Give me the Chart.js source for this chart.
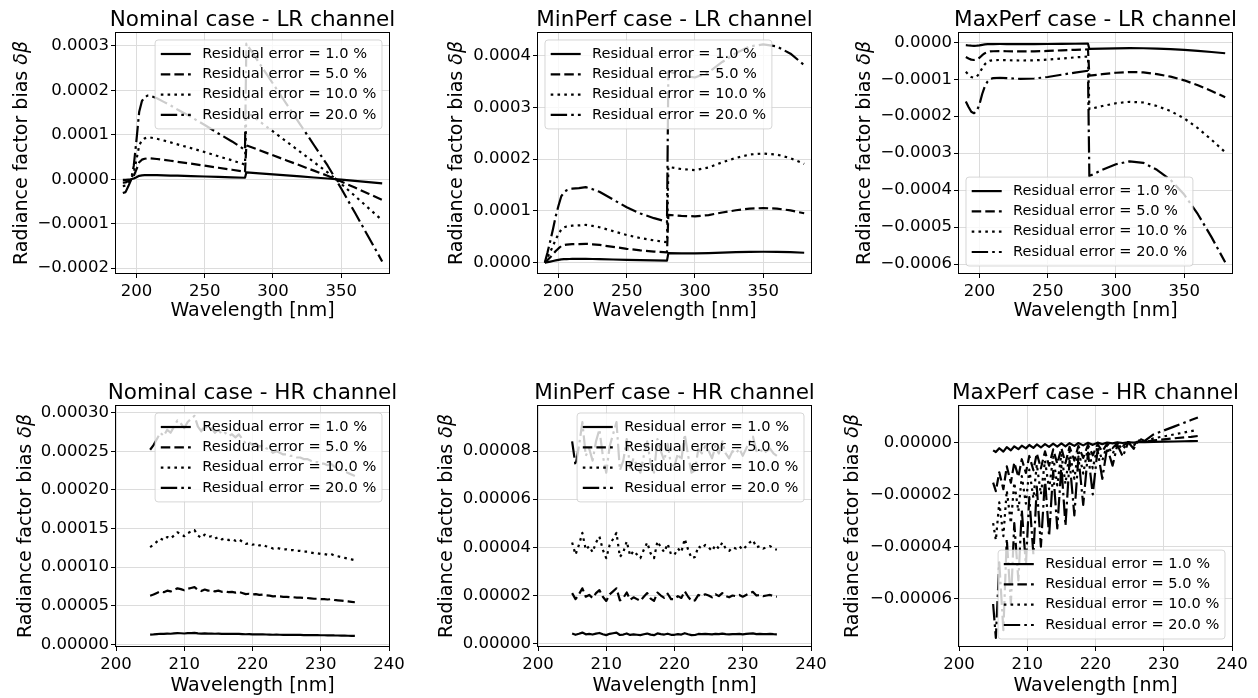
<!DOCTYPE html>
<html>
<head>
<meta charset="utf-8">
<script src="https://cdn.jsdelivr.net/npm/chart.js@4.4.1/dist/chart.umd.min.js"></script>
<style>
  body { margin: 0; background: #fff; width: 1258px; height: 698px; position: relative; overflow: hidden; }
  canvas { position: absolute; }
</style>
</head>
<body>
<canvas id="nomLR" width="418" height="333" style="left:-4px;top:0px"></canvas>
<canvas id="minLR" width="418" height="333" style="left:418px;top:0px"></canvas>
<canvas id="maxLR" width="418" height="333" style="left:839px;top:0px"></canvas>
<canvas id="nomHR" width="418" height="333" style="left:-4px;top:373px"></canvas>
<canvas id="minHR" width="418" height="333" style="left:418px;top:373px"></canvas>
<canvas id="maxHR" width="418" height="333" style="left:839px;top:373px"></canvas>
<script>
// all bias values below are in units of 1e-6
const SCALE = 1e-6;

const seriesLabels = ['Residual error = 1.0 %', 'Residual error = 5.0 %', 'Residual error = 10.0 %', 'Residual error = 20.0 %'];

// LR channel wavelength grid (nm), step at the 280 nm band edge
const lrWavelength = [190, 192, 194, 196, 198, 200, 202, 204, 206, 208, 210, 215, 220, 225, 230, 240, 250, 260, 270, 279.5, 280.5, 290, 300, 310, 320, 330, 340, 350, 360, 370, 380];

const nomLR_1 = [-1.6, -1.5, -0.8, -0.1, 1.5, 4.4, 7.6, 8.8, 9.2, 9.4, 9.4, 9.1, 8.7, 8.3, 7.9, 7.0, 6.1, 5.2, 4.3, 3.3, 15.3, 13.1, 10.8, 8.5, 6.2, 3.9, 1.6, -1.1, -3.8, -6.5, -9.3];
const nomLR_5 = [-7.8, -7.3, -4, -0.5, 7.5, 22, 38, 44, 46, 47, 47, 45.5, 43.5, 41.5, 39.3, 35, 30.5, 25.8, 21.3, 16.5, 76.3, 65.3, 53.8, 42.3, 30.8, 19.3, 7.8, -5.3, -18.8, -32.5, -46.3];
const nomLR_10 = [-15.5, -14.5, -8, -1, 15, 44, 76, 88, 92, 94, 94, 91, 87, 83, 78.5, 70, 61, 51.5, 42.5, 33, 152.5, 130.5, 107.5, 84.5, 61.5, 38.5, 15.5, -10.5, -37.5, -65, -92.5];
const nomLR_20 = [-31, -29, -16, -2, 30, 88, 152, 176, 184, 188, 188, 182, 174, 166, 157, 140, 122, 103, 85, 66, 305, 261, 215, 169, 123, 77, 31, -21, -75, -130, -185];

const minLR_1 = [0, 1, 2.1, 3.3, 4.5, 5.5, 6.4, 6.8, 7, 7.1, 7.2, 7.2, 7.3, 7.1, 6.9, 6.1, 5.4, 4.8, 4.3, 4, 18.5, 18.1, 17.9, 18.4, 19.4, 20.3, 20.9, 21.1, 20.9, 20.2, 19.1];
const minLR_5 = [0, 5, 10.5, 16.3, 22.5, 27.5, 32, 34, 35, 35.5, 35.8, 36, 36.5, 35.5, 34.3, 30.5, 26.8, 23.8, 21.5, 19.8, 92.5, 90.5, 89.5, 92, 97, 101.3, 104.5, 105.5, 104.5, 101, 95.5];
const minLR_10 = [0, 10, 21, 32.5, 45, 55, 64, 68, 70, 71, 71.5, 72, 73, 71, 68.5, 61, 53.5, 47.5, 43, 39.5, 185, 181, 179, 184, 194, 202.5, 209, 211, 209, 202, 191];
const minLR_20 = [0, 20, 42, 65, 90, 110, 128, 136, 140, 142, 143, 144, 146, 142, 137, 122, 107, 95, 86, 79, 370, 362, 358, 368, 388, 405, 418, 422, 418, 404, 382];

const maxLR_1 = [-8, -8.8, -9.4, -9.6, -9.3, -8.4, -7, -5.9, -5.3, -5, -4.9, -4.8, -4.9, -4.9, -5, -4.9, -4.7, -4.4, -4.1, -3.9, -18.1, -17.3, -16.5, -16.1, -16.3, -17.3, -18.6, -20.6, -23.3, -26.4, -29.8];
const maxLR_5 = [-40, -43.8, -47, -48, -46.5, -42, -35, -29.5, -26.5, -24.8, -24.3, -24, -24.3, -24.5, -24.8, -24.5, -23.5, -22, -20.5, -19.3, -90.5, -86.3, -82.5, -80.5, -81.5, -86.3, -93, -103, -116.3, -131.8, -148.8];
const maxLR_10 = [-80, -87.5, -94, -96, -93, -84, -70, -59, -53, -49.5, -48.5, -48, -48.5, -49, -49.5, -49, -47, -44, -41, -38.5, -181, -172.5, -165, -161, -163, -172.5, -186, -206, -232.5, -263.5, -297.5];
const maxLR_20 = [-160, -175, -188, -192, -186, -168, -140, -118, -106, -99, -97, -96, -97, -98, -99, -98, -94, -88, -82, -77, -362, -345, -330, -322, -326, -345, -372, -412, -465, -527, -595];

// HR channel wavelength grid (nm)
const hrWavelength = [205, 205.5, 206, 206.5, 207, 207.5, 208, 208.5, 209, 209.5, 210, 210.5, 211, 211.5, 212, 212.5, 213, 213.5, 214, 214.5, 215, 215.5, 216, 216.5, 217, 217.5, 218, 218.5, 219, 219.5, 220, 220.5, 221, 221.5, 222, 222.5, 223, 223.5, 224, 224.5, 225, 225.5, 226, 226.5, 227, 227.5, 228, 228.5, 229, 229.5, 230, 230.5, 231, 231.5, 232, 232.5, 233, 233.5, 234, 234.5, 235];

const nomHR_1 = [12.6, 12.9, 13.3, 13.7, 13.5, 13.9, 13.7, 14.1, 14.5, 14.3, 14.0, 14.4, 14.6, 14.8, 14.1, 13.8, 14.2, 13.9, 14.0, 13.7, 13.9, 13.6, 13.7, 13.5, 13.6, 13.4, 13.6, 13.3, 13.0, 13.1, 12.9, 13.0, 12.8, 12.9, 12.7, 12.6, 12.4, 12.5, 12.4, 12.3, 12.3, 12.2, 12.2, 12.1, 12.1, 12.0, 12.0, 11.9, 11.8, 11.8, 11.7, 11.7, 11.6, 11.7, 11.5, 11.4, 11.3, 11.2, 11.1, 11.0, 10.9];
const nomHR_5 = [63, 64.5, 66.5, 68.5, 67.5, 69.5, 68.5, 70.5, 72.5, 71.5, 70, 72, 73, 74, 70.5, 69, 71, 69.5, 70, 68.5, 69.5, 68, 68.5, 67.5, 68, 67, 68, 66.5, 65, 65.5, 64.5, 65, 64, 64.5, 63.5, 63, 62, 62.5, 62, 61.5, 61.5, 61, 61, 60.5, 60.5, 60, 60, 59.5, 59, 59, 58.5, 58.5, 58, 58.5, 57.5, 57, 56.5, 56, 55.5, 55, 54.5];
const nomHR_10 = [126, 129, 133, 137, 135, 139, 137, 141, 145, 143, 140, 144, 146, 148, 141, 138, 142, 139, 140, 137, 139, 136, 137, 135, 136, 134, 136, 133, 130, 131, 129, 130, 128, 129, 127, 126, 124, 125, 124, 123, 123, 122, 122, 121, 121, 120, 120, 119, 118, 118, 117, 117, 116, 117, 115, 114, 113, 112, 111, 110, 109];
const nomHR_20 = [252, 258, 266, 274, 270, 278, 274, 282, 290, 286, 280, 288, 292, 296, 282, 276, 284, 278, 280, 274, 278, 272, 274, 270, 272, 268, 272, 266, 260, 262, 258, 260, 256, 258, 254, 252, 248, 250, 248, 246, 246, 244, 244, 242, 242, 240, 240, 238, 236, 236, 234, 234, 232, 234, 230, 228, 226, 224, 222, 220, 218];

const minHR_1 = [4.2, 3.7, 4.1, 4.6, 3.9, 4.05, 3.8, 4.2, 4.45, 3.9, 3.55, 4.1, 4.35, 4.6, 3.6, 3.8, 4.25, 3.65, 3.85, 3.7, 3.55, 3.9, 4.2, 3.75, 3.55, 4.25, 4.0, 3.8, 4.15, 3.7, 3.7, 3.95, 3.8, 4.35, 3.9, 3.55, 3.6, 4.05, 3.95, 4.1, 4.0, 3.85, 4.1, 3.95, 4.2, 3.95, 3.85, 4.0, 3.95, 4.05, 3.9, 4.05, 4.2, 4.3, 4.0, 4.05, 3.95, 4.0, 4.05, 3.95, 3.9];
const minHR_5 = [21, 18.5, 20.5, 23, 19.5, 20.25, 19, 21, 22.25, 19.5, 17.75, 20.5, 21.75, 23, 18, 19, 21.25, 18.25, 19.25, 18.5, 17.75, 19.5, 21, 18.75, 17.75, 21.25, 20, 19, 20.75, 18.5, 18.5, 19.75, 19, 21.75, 19.5, 17.75, 18, 20.25, 19.75, 20.5, 20, 19.25, 20.5, 19.75, 21, 19.75, 19.25, 20, 19.75, 20.25, 19.5, 20.25, 21, 21.5, 20, 20.25, 19.75, 20, 20.25, 19.75, 19.5];
const minHR_10 = [42, 37, 41, 46, 39, 40.5, 38, 42, 44.5, 39, 35.5, 41, 43.5, 46, 36, 38, 42.5, 36.5, 38.5, 37, 35.5, 39, 42, 37.5, 35.5, 42.5, 40, 38, 41.5, 37, 37, 39.5, 38, 43.5, 39, 35.5, 36, 40.5, 39.5, 41, 40, 38.5, 41, 39.5, 42, 39.5, 38.5, 40, 39.5, 40.5, 39, 40.5, 42, 43, 40, 40.5, 39.5, 40, 40.5, 39.5, 39];
const minHR_20 = [84, 74, 82, 92, 78, 81, 76, 84, 89, 78, 71, 82, 87, 92, 72, 76, 85, 73, 77, 74, 71, 78, 84, 75, 71, 85, 80, 76, 83, 74, 74, 79, 76, 87, 78, 71, 72, 81, 79, 82, 80, 77, 82, 79, 84, 79, 77, 80, 79, 81, 78, 81, 84, 86, 80, 81, 79, 80, 81, 79, 78];

// MaxPerf HR oscillates crest/trough, so it gets its own grid
const maxHRWavelength = [205.0, 205.4, 205.9, 206.5, 207.0, 207.6, 208.1, 208.7, 209.2, 209.8, 210.3, 210.9, 211.4, 212.0, 212.6, 213.2, 213.8, 214.4, 215.0, 215.6, 216.2, 216.9, 217.5, 218.2, 218.9, 219.6, 220.3, 221.0, 221.7, 222.5, 223.2, 224.0, 224.8, 225.6, 226.4, 227.2, 228.5, 230.0, 231.5, 233.0, 234.0, 235.0];
const maxHR_1 = [-3.1, -3.75, -2.3, -3.6, -1.85, -3.1, -1.55, -2.65, -1.3, -2.35, -1.05, -2.15, -0.85, -2.0, -0.7, -1.8, -0.55, -1.65, -0.45, -1.6, -0.35, -1.4, -0.28, -1.2, -0.2, -1.0, -0.15, -0.7, -0.1, -0.45, -0.05, -0.28, 0, -0.13, 0.08, 0.03, 0.15, 0.23, 0.3, 0.38, 0.43, 0.48];
const maxHR_5 = [-15.5, -18.75, -11.5, -18, -9.25, -15.5, -7.75, -13.25, -6.5, -11.75, -5.25, -10.75, -4.25, -10, -3.5, -9, -2.75, -8.25, -2.25, -8, -1.75, -7, -1.4, -6, -1, -5, -0.75, -3.5, -0.5, -2.25, -0.25, -1.4, 0, -0.6, 0.4, 0.1, 0.75, 1.1, 1.5, 1.9, 2.1, 2.4];
const maxHR_10 = [-31, -37.5, -23, -36, -18.5, -31, -15.5, -26.5, -13, -23.5, -10.5, -21.5, -8.5, -20, -7, -18, -5.5, -16.5, -4.5, -16, -3.5, -14, -2.75, -12, -2, -10, -1.5, -7, -1, -4.5, -0.5, -2.75, 0, -1.25, 0.75, 0.25, 1.5, 2.25, 3, 3.75, 4.25, 4.75];
const maxHR_20 = [-62, -75, -46, -72, -37, -62, -31, -53, -26, -47, -21, -43, -17, -40, -14, -36, -11, -33, -9, -32, -7, -28, -5.5, -24, -4, -20, -3, -14, -2, -9, -1, -5.5, 0, -2.5, 1.5, 0.5, 3, 4.5, 6, 7.5, 8.5, 9.5];

// tick positions
const xTicksLR = [200, 250, 300, 350];
const xTicksHR = [200, 210, 220, 230, 240];
const yTicksNomLR = [-0.0002, -0.0001, 0, 0.0001, 0.0002, 0.0003];
const yTicksMinLR = [0, 0.0001, 0.0002, 0.0003, 0.0004];
const yTicksMaxLR = [-0.0006, -0.0005, -0.0004, -0.0003, -0.0002, -0.0001, 0];
const yTicksNomHR = [0, 0.00005, 0.0001, 0.00015, 0.0002, 0.00025, 0.0003];
const yTicksMinHR = [0, 0.00002, 0.00004, 0.00006, 0.00008];
const yTicksMaxHR = [-0.00006, -0.00004, -0.00002, 0];

const FONT = '"DejaVu Sans", sans-serif';
Chart.defaults.font.family = FONT;
Chart.defaults.color = '#000';

// solid, dashed, dotted, dash-dot
const dashes = [[], [9.5, 4.1], [2.6, 4.2], [16.4, 4.1, 2.6, 4.1]];

function pathRound(ctx, x, y, w, h, r) {
  ctx.beginPath();
  ctx.moveTo(x + r, y);
  ctx.arcTo(x + w, y, x + w, y + h, r);
  ctx.arcTo(x + w, y + h, x, y + h, r);
  ctx.arcTo(x, y + h, x, y, r);
  ctx.arcTo(x, y, x + w, y, r);
  ctx.closePath();
}

// legend box drawn over the lines, semi-transparent like the usual framed legend
const boxLegend = {
  id: 'boxLegend',
  afterDatasetsDraw(chart, args, opts) {
    const ctx = chart.ctx, a = chart.chartArea;
    const fs = 14.6, pad = 5.7, handle = 30, gap = 11.4, pitch = 20.3, margin = 7;
    const sets = chart.data.datasets;
    ctx.save();
    ctx.font = fs + 'px ' + FONT;
    let tw = 0;
    sets.forEach(d => { tw = Math.max(tw, ctx.measureText(d.label).width); });
    const w = pad * 2 + handle + gap + tw;
    const h = 28 + pitch * (sets.length - 1);
    const corner = opts.corner || 'ur';
    const left = corner[1] === 'l' ? a.left + margin : a.right - margin - w;
    const top = corner[0] === 'u' ? a.top + margin : a.bottom - margin - h;
    pathRound(ctx, left, top, w, h, 3);
    ctx.fillStyle = 'rgba(255,255,255,0.8)';
    ctx.fill();
    ctx.strokeStyle = 'rgba(204,204,204,0.8)';
    ctx.lineWidth = 1;
    ctx.stroke();
    sets.forEach((d, i) => {
      const y = top + 14 + i * pitch;
      ctx.beginPath();
      ctx.setLineDash(d.borderDash);
      ctx.lineWidth = d.borderWidth;
      ctx.strokeStyle = d.borderColor;
      ctx.lineCap = 'butt';
      ctx.moveTo(left + pad, y);
      ctx.lineTo(left + pad + handle, y);
      ctx.stroke();
      ctx.setLineDash([]);
      ctx.fillStyle = '#000';
      ctx.textBaseline = 'middle';
      ctx.fillText(d.label, left + pad + handle + gap, y);
    });
    ctx.restore();
  }
};

// axes frame on all four sides, the panel title centred on the plot,
// and the rotated y label with italic delta-beta
const frameAndLabel = {
  id: 'frameAndLabel',
  afterDraw(chart, args, opts) {
    const ctx = chart.ctx, a = chart.chartArea;
    ctx.save();
    ctx.strokeStyle = '#000';
    ctx.lineWidth = 1;
    ctx.strokeRect(a.left - 0.5, a.top - 0.5, a.right - a.left + 1, a.bottom - a.top + 1);

    ctx.fillStyle = '#000';
    ctx.textBaseline = 'alphabetic';
    ctx.textAlign = 'center';
    ctx.font = '21.5px ' + FONT;
    ctx.fillText(opts.title, (a.left + a.right) / 2, a.top - 7);

    ctx.textAlign = 'left';
    ctx.translate(a.left - opts.gap, (a.top + a.bottom) / 2);
    ctx.rotate(-Math.PI / 2);
    const plain = 'Radiance factor bias ', greek = 'δβ';
    ctx.font = '19px ' + FONT;
    const w1 = ctx.measureText(plain).width;
    ctx.font = 'italic 19px ' + FONT;
    const w2 = ctx.measureText(greek).width;
    const x0 = -(w1 + w2) / 2;
    ctx.font = '19px ' + FONT;
    ctx.fillText(plain, x0, 0);
    ctx.font = 'italic 19px ' + FONT;
    ctx.fillText(greek, x0 + w1, 0);
    ctx.restore();
  }
};

Chart.register(boxLegend, frameAndLabel);

function fmt(v, dec) {
  const s = Math.abs(v) < 1e-12 ? (0).toFixed(dec) : v.toFixed(dec);
  return s.replace('-', '\u2212');
}

function panel(p) {
  const datasets = p.series.map((ys, i) => ({
    label: seriesLabels[i],
    data: p.wl.map((x, j) => ({ x: x, y: ys[j] * SCALE })),
    borderColor: '#000',
    borderWidth: 2.2,
    borderDash: dashes[i],
    borderCapStyle: 'butt',
    borderJoinStyle: 'round',
    pointRadius: 0,
    fill: false,
    tension: 0
  }));
  new Chart(document.getElementById(p.id), {
    type: 'line',
    data: { datasets: datasets },
    options: {
      responsive: false,
      animation: false,
      events: [],
      layout: { padding: { top: 33, right: 25 } },
      plugins: {
        legend: { display: false },
        tooltip: { enabled: false },
        title: { display: false },
        boxLegend: { corner: p.corner },
        frameAndLabel: { gap: p.yGap, title: p.title }
      },
      scales: {
        x: {
          type: 'linear', min: p.xMin, max: p.xMax,
          afterFit: s => { s.height = 60; },
          afterBuildTicks: ax => { ax.ticks = p.xTicks.map(v => ({ value: v })); },
          ticks: { font: { size: 16.5 }, color: '#000', padding: 4, maxRotation: 0, autoSkip: false, callback: v => String(v) },
          grid: { color: '#dcdcdc', tickColor: '#000', tickLength: 5, lineWidth: 1 },
          border: { display: false },
          title: { display: true, text: 'Wavelength [nm]', font: { size: 19 }, color: '#000', padding: { top: 0, bottom: p.xTitlePad } }
        },
        y: {
          type: 'linear', min: p.yMin, max: p.yMax,
          afterFit: s => { s.width = 120; },
          afterBuildTicks: ax => { ax.ticks = p.yTicks.map(v => ({ value: v })); },
          ticks: { font: { size: 16.5 }, color: '#000', padding: 2, autoSkip: false, callback: v => fmt(v, p.yDec) },
          grid: { color: '#dcdcdc', tickColor: '#000', tickLength: 5, lineWidth: 1 },
          border: { display: false }
        }
      }
    }
  });
}

panel({ id: 'nomLR', title: 'Nominal case - LR channel', wl: lrWavelength, series: [nomLR_1, nomLR_5, nomLR_10, nomLR_20],
  xMin: 185, xMax: 385, xTicks: xTicksLR, yMin: -0.000211, yMax: 0.000329, yTicks: yTicksNomLR, yDec: 4, corner: 'ur', yGap: 89, xTitlePad: 11 });
panel({ id: 'minLR', title: 'MinPerf case - LR channel', wl: lrWavelength, series: [minLR_1, minLR_5, minLR_10, minLR_20],
  xMin: 185, xMax: 385, xTicks: xTicksLR, yMin: -0.00002, yMax: 0.000444, yTicks: yTicksMinLR, yDec: 4, corner: 'ul', yGap: 76, xTitlePad: 11 });
panel({ id: 'maxLR', title: 'MaxPerf case - LR channel', wl: lrWavelength, series: [maxLR_1, maxLR_5, maxLR_10, maxLR_20],
  xMin: 185, xMax: 385, xTicks: xTicksLR, yMin: -0.000624, yMax: 0.000025, yTicks: yTicksMaxLR, yDec: 4, corner: 'll', yGap: 89, xTitlePad: 11 });
panel({ id: 'nomHR', title: 'Nominal case - HR channel', wl: hrWavelength, series: [nomHR_1, nomHR_5, nomHR_10, nomHR_20],
  xMin: 200, xMax: 240, xTicks: xTicksHR, yMin: -0.0000022, yMax: 0.0003087, yTicks: yTicksNomHR, yDec: 5, corner: 'ur', yGap: 85, xTitlePad: 9 });
panel({ id: 'minHR', title: 'MinPerf case - HR channel', wl: hrWavelength, series: [minHR_1, minHR_5, minHR_10, minHR_20],
  xMin: 200, xMax: 240, xTicks: xTicksHR, yMin: -0.00000096, yMax: 0.0000987, yTicks: yTicksMinHR, yDec: 5, corner: 'ur', yGap: 86, xTitlePad: 9 });
panel({ id: 'maxHR', title: 'MaxPerf case - HR channel', wl: maxHRWavelength, series: [maxHR_1, maxHR_5, maxHR_10, maxHR_20],
  xMin: 200, xMax: 240, xTicks: xTicksHR, yMin: -0.0000781, yMax: 0.0000139, yTicks: yTicksMaxHR, yDec: 5, corner: 'lr', yGap: 101, xTitlePad: 9 });
</script>
</body>
</html>
